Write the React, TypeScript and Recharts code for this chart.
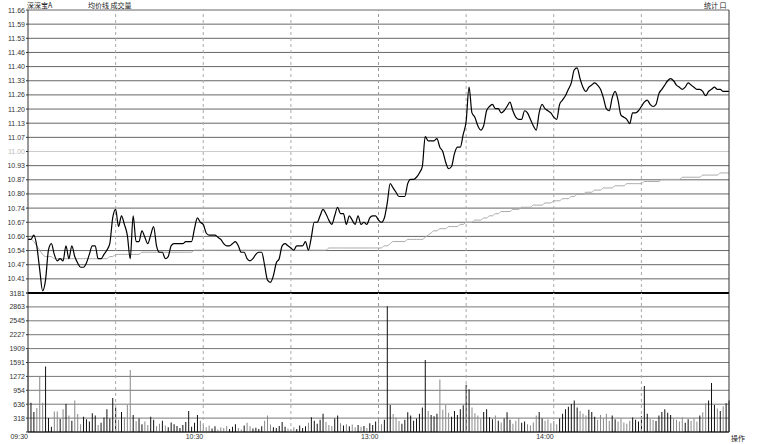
import { LineChart, Line, BarChart, Bar, Cell, XAxis, YAxis, CartesianGrid, ReferenceLine } from 'recharts'

// 分时 minute data, 09:30-11:30 + 13:00-15:00 (241 points)
const PRICES = [
  10.59, 10.59, 10.61, 10.56, 10.45, 10.35, 10.40, 10.54, 10.57, 10.52,
  10.49, 10.50, 10.49, 10.56, 10.50, 10.56, 10.51, 10.48, 10.46, 10.46,
  10.48, 10.52, 10.56, 10.56, 10.50, 10.50, 10.52, 10.54, 10.57, 10.69,
  10.73, 10.65, 10.70, 10.66, 10.61, 10.50, 10.70, 10.58, 10.58, 10.63,
  10.60, 10.57, 10.61, 10.65, 10.56, 10.53, 10.53, 10.50, 10.51, 10.56,
  10.57, 10.57, 10.57, 10.57, 10.58, 10.58, 10.58, 10.64, 10.69, 10.67,
  10.66, 10.62, 10.61, 10.61, 10.61, 10.60, 10.59, 10.57, 10.56, 10.56,
  10.57, 10.58, 10.56, 10.53, 10.53, 10.50, 10.49, 10.50, 10.52, 10.53,
  10.53, 10.47, 10.40, 10.39, 10.42, 10.48, 10.50, 10.56, 10.57, 10.56,
  10.55, 10.54, 10.56, 10.56, 10.56, 10.58, 10.54, 10.60, 10.67, 10.67,
  10.70, 10.73, 10.71, 10.68, 10.66, 10.70, 10.74, 10.71, 10.71, 10.66,
  10.70, 10.68, 10.66, 10.70, 10.66, 10.67, 10.66, 10.69, 10.70, 10.70,
  10.68, 10.67, 10.69, 10.76, 10.85, 10.83, 10.81, 10.79, 10.79, 10.79,
  10.85, 10.87, 10.87, 10.88, 10.90, 10.93, 11.07, 11.05, 11.05, 11.05,
  11.06, 11.02, 11.00, 10.95, 10.92, 10.93, 10.99, 11.02, 11.02, 11.08,
  11.14, 11.30, 11.18, 11.16, 11.12, 11.10, 11.12, 11.19, 11.21, 11.22,
  11.20, 11.20, 11.18, 11.19, 11.21, 11.23, 11.19, 11.16, 11.15, 11.15,
  11.19, 11.18, 11.15, 11.12, 11.10, 11.18, 11.22, 11.20, 11.19, 11.18,
  11.16, 11.15, 11.22, 11.24, 11.26, 11.29, 11.32, 11.38, 11.39, 11.34,
  11.30, 11.28, 11.30, 11.31, 11.32, 11.31, 11.29, 11.25, 11.20, 11.19,
  11.25, 11.28, 11.24, 11.17, 11.16, 11.15, 11.13, 11.18, 11.18, 11.19,
  11.21, 11.23, 11.24, 11.22, 11.21, 11.22, 11.27, 11.29, 11.31, 11.33,
  11.34, 11.33, 11.31, 11.30, 11.29, 11.30, 11.32, 11.31, 11.30, 11.29,
  11.29, 11.28, 11.26, 11.28, 11.29, 11.30, 11.29, 11.29, 11.28, 11.28,
  11.28,
]

const AVG_PRICES = [
  10.59, 10.59, 10.58, 10.56, 10.54, 10.52, 10.51, 10.51, 10.51, 10.50,
  10.50, 10.50, 10.50, 10.50, 10.50, 10.50, 10.50, 10.50, 10.50, 10.50,
  10.50, 10.50, 10.50, 10.50, 10.50, 10.50, 10.50, 10.50, 10.51, 10.51,
  10.52, 10.52, 10.52, 10.52, 10.52, 10.52, 10.52, 10.52, 10.52, 10.53,
  10.53, 10.53, 10.53, 10.53, 10.53, 10.53, 10.53, 10.53, 10.53, 10.53,
  10.53, 10.53, 10.53, 10.53, 10.53, 10.53, 10.53, 10.54, 10.54, 10.54,
  10.54, 10.54, 10.54, 10.54, 10.54, 10.54, 10.54, 10.54, 10.54, 10.54,
  10.54, 10.54, 10.54, 10.54, 10.54, 10.54, 10.54, 10.54, 10.54, 10.54,
  10.54, 10.54, 10.54, 10.54, 10.54, 10.54, 10.54, 10.54, 10.54, 10.54,
  10.54, 10.54, 10.54, 10.54, 10.54, 10.54, 10.54, 10.54, 10.54, 10.54,
  10.54, 10.54, 10.54, 10.55, 10.55, 10.55, 10.55, 10.55, 10.55, 10.55,
  10.55, 10.55, 10.55, 10.55, 10.55, 10.55, 10.55, 10.55, 10.55, 10.55,
  10.55, 10.55, 10.56, 10.56, 10.57, 10.58, 10.58, 10.58, 10.58, 10.58,
  10.59, 10.59, 10.59, 10.59, 10.59, 10.59, 10.60, 10.61, 10.62, 10.63,
  10.63, 10.64, 10.64, 10.64, 10.65, 10.65, 10.65, 10.65, 10.66, 10.66,
  10.67, 10.67, 10.67, 10.68, 10.68, 10.68, 10.69, 10.69, 10.70, 10.70,
  10.71, 10.71, 10.72, 10.72, 10.72, 10.72, 10.73, 10.73, 10.73, 10.74,
  10.74, 10.74, 10.74, 10.75, 10.75, 10.75, 10.75, 10.76, 10.76, 10.76,
  10.77, 10.77, 10.77, 10.78, 10.78, 10.78, 10.79, 10.79, 10.80, 10.80,
  10.80, 10.81, 10.81, 10.81, 10.82, 10.82, 10.82, 10.83, 10.83, 10.83,
  10.83, 10.84, 10.84, 10.84, 10.84, 10.85, 10.85, 10.85, 10.85, 10.85,
  10.85, 10.86, 10.86, 10.86, 10.86, 10.86, 10.86, 10.87, 10.87, 10.87,
  10.87, 10.87, 10.87, 10.87, 10.88, 10.88, 10.88, 10.88, 10.88, 10.88,
  10.88, 10.89, 10.89, 10.89, 10.89, 10.89, 10.89, 10.90, 10.90, 10.90,
  10.90,
]

const VOLUMES = [
  1880, 670, 460, 550, 1280, 670, 1500, 320, 120, 470,
  470, 300, 520, 640, 380, 260, 720, 410, 180, 350,
  290, 240, 430, 380, 160, 210, 330, 520, 310, 780,
  560, 280, 460, 340, 620, 1420, 390, 250, 310, 180,
  240, 160, 350, 280, 130, 190, 260, 150, 110, 220,
  180, 140, 90, 160, 230, 480, 120, 210, 390, 260,
  170, 110, 150, 80, 130, 60, 110, 90, 140, 70,
  120, 180, 90, 60, 150, 210, 130, 80, 100, 70,
  130, 260, 380, 170, 110, 90, 140, 230, 120, 80,
  60, 110, 70, 150, 90, 130, 210, 340, 260, 190,
  280, 420, 230, 160, 140, 310, 380, 200, 150, 180,
  130, 170, 110, 160, 120, 140, 90, 200, 160, 240,
  310, 180, 280, 2880, 620, 410, 330, 250, 190, 280,
  450, 380, 260, 310, 420, 560, 1650, 480, 390, 360,
  420, 1200, 510, 620, 440, 350, 480, 390, 520, 610,
  1080, 980, 560, 430, 380, 310, 460, 520, 340, 290,
  380, 260, 220, 310, 450, 280, 190, 260, 320, 210,
  240, 180, 150, 220, 380, 460, 310, 260, 290, 200,
  250, 180, 310, 420, 520, 580, 640, 720, 560, 480,
  420, 380, 510, 460, 350, 280, 390, 310, 420, 260,
  380, 290, 240, 310, 220, 190, 260, 330, 280, 240,
  360, 1050, 420, 310, 280, 250, 380, 460, 520, 440,
  390, 310, 280, 240, 330, 210, 290, 250, 310, 240,
  380, 450, 660, 720, 1120, 620, 540, 480, 590, 660,
  720,
]

const PREV_CLOSE = 11.0
const PRICE_TICKS = [
  10.34, 10.406, 10.472, 10.538, 10.604, 10.67, 10.736, 10.802, 10.868, 10.934, 11.0,
  11.066, 11.132, 11.198, 11.264, 11.33, 11.396, 11.462, 11.528, 11.594, 11.66,
]
const VOLUME_TICKS = [0, 318.1, 636.2, 954.3, 1272.4, 1590.5, 1908.6, 2226.7, 2544.8, 2862.9, 3181]
const TIME_TICKS = [0, 60, 120, 180]
const TIME_LABELS = ['09:30', '10:30', '13:00', '14:00']
const HALF_HOURS = [30, 60, 90, 120, 150, 180, 210]

const FONT = '"Liberation Sans", Arial, sans-serif'
const CJK = '"Noto Sans CJK SC", sans-serif'
const W = 757

const data = PRICES.map((p, i) => ({
  t: i,
  price: p,
  avg: AVG_PRICES[i],
  vol: VOLUMES[i],
  up: i === 0 ? p >= PREV_CLOSE : p >= PRICES[i - 1],
}))

function PriceTick({ x, y, payload }: any) {
  const v = payload.value
  if (v === 10.34) return <g />
  return (
    <text x={x} y={y} dy={2.5} textAnchor="end" fontSize={7} fontFamily={FONT} fill={v === 11 ? '#bbb' : '#333'}>
      {v.toFixed(2)}
    </text>
  )
}

function PctTick({ x, y, payload }: any) {
  const v = payload.value
  if (v === 10.34) return <g />
  const pct = Math.abs((v / PREV_CLOSE - 1) * 100).toFixed(2) + '%'
  return (
    <text x={x} y={y} dy={2.5} textAnchor="start" fontSize={7} fontFamily={FONT} fill={v === 11 ? '#bbb' : '#333'}>
      {pct}
    </text>
  )
}

function VolTick({ x, y, payload, anchor }: any) {
  if (payload.value === 0) return <g />
  return (
    <text x={x} y={y} dy={2.5} textAnchor={anchor} fontSize={7} fontFamily={FONT} fill="#333">
      {Math.round(payload.value)}
    </text>
  )
}

function TimeTick({ x, y, payload }: any) {
  const i = TIME_TICKS.indexOf(payload.value)
  return (
    <text x={x} y={y} dy={6} textAnchor="end" fontSize={7} fontFamily={FONT} fill="#333">
      {TIME_LABELS[i]}
    </text>
  )
}

export default function App() {
  return (
    <div style={{ position: 'absolute', left: 0, top: 0, width: W, height: 444, background: '#fff', overflow: 'hidden' }}>
      <div style={{ position: 'absolute', left: 0, top: 0 }}>
        <LineChart width={W} height={300} data={data} margin={{ top: 10, right: 0, bottom: 7, left: 0 }}>
          <CartesianGrid yAxisId="left" vertical={false} stroke="#666" />
          <XAxis dataKey="t" type="number" domain={[0, 240]} hide />
          <YAxis
            yAxisId="left"
            domain={[10.34, 11.66]}
            ticks={PRICE_TICKS}
            width={28}
            tickSize={2}
            tickMargin={1}
            tick={<PriceTick />}
            axisLine={{ stroke: '#333' }}
            tickLine={{ stroke: '#333' }}
            interval={0}
          />
          <YAxis
            yAxisId="right"
            orientation="right"
            domain={[10.34, 11.66]}
            ticks={PRICE_TICKS}
            width={28}
            tickSize={0}
            tickMargin={2}
            tick={<PctTick />}
            axisLine={{ stroke: '#333' }}
            interval={0}
          />
          <ReferenceLine yAxisId="left" y={11} stroke="#ccc" />
          <ReferenceLine yAxisId="left" y={10.34} stroke="#000" strokeWidth={2} />
          {HALF_HOURS.map((m) => (
            <ReferenceLine key={m} yAxisId="left" x={m} stroke={m === 120 ? '#999' : '#aaa'} strokeDasharray="3 3" />
          ))}
          <Line yAxisId="left" type="monotone" dataKey="avg" stroke="#aaa" strokeWidth={1} dot={false} isAnimationActive={false} />
          <Line yAxisId="left" type="monotone" dataKey="price" stroke="#000" strokeWidth={1.2} dot={false} isAnimationActive={false} />
        </LineChart>
      </div>
      <div style={{ position: 'absolute', left: 0, top: 288 }}>
        <BarChart width={W} height={156} data={data} margin={{ top: 5, right: 0, bottom: 0, left: 0 }}>
          <CartesianGrid yAxisId="left" vertical={false} stroke="#777" />
          <XAxis
            dataKey="t"
            type="number"
            domain={[0, 240]}
            ticks={TIME_TICKS}
            height={12}
            tickSize={0}
            tickMargin={1}
            tick={<TimeTick />}
            tickLine={false}
            axisLine={{ stroke: '#000' }}
            interval={0}
          />
          <YAxis
            yAxisId="left"
            domain={[0, 3181]}
            ticks={VOLUME_TICKS}
            width={28}
            tickSize={2}
            tickMargin={1}
            tick={<VolTick anchor="end" />}
            axisLine={{ stroke: '#333' }}
            tickLine={{ stroke: '#333' }}
            interval={0}
          />
          <YAxis
            yAxisId="right"
            orientation="right"
            domain={[0, 3181]}
            ticks={VOLUME_TICKS}
            width={28}
            tickSize={0}
            tickMargin={2}
            tick={<VolTick anchor="start" />}
            axisLine={{ stroke: '#333' }}
            interval={0}
          />
          <ReferenceLine yAxisId="left" y={3181} stroke="#000" strokeWidth={2} />
          {HALF_HOURS.map((m) => (
            <ReferenceLine key={m} yAxisId="left" x={m} stroke={m === 120 ? '#999' : '#aaa'} strokeDasharray="3 3" />
          ))}
          <Bar yAxisId="left" dataKey="vol" barSize={1} isAnimationActive={false}>
            {data.map((d) => (
              <Cell key={d.t} fill={d.up ? '#111' : '#888'} />
            ))}
          </Bar>
        </BarChart>
      </div>
      <div style={{ position: 'absolute', left: 27, top: 1, fontSize: 7, fontFamily: CJK, color: '#222', lineHeight: '8px' }}>
        深深宝A
      </div>
      <div style={{ position: 'absolute', left: 88, top: 1, fontSize: 7, fontFamily: CJK, color: '#222', lineHeight: '8px' }}>
        均价线 成交量
      </div>
      <div style={{ position: 'absolute', left: 704, top: 1, fontSize: 7, fontFamily: CJK, color: '#222', lineHeight: '8px' }}>
        统计 口
      </div>
      <div style={{ position: 'absolute', left: 731, top: 434, fontSize: 7, fontFamily: CJK, color: '#222', lineHeight: '8px' }}>
        操作
      </div>
    </div>
  )
}
